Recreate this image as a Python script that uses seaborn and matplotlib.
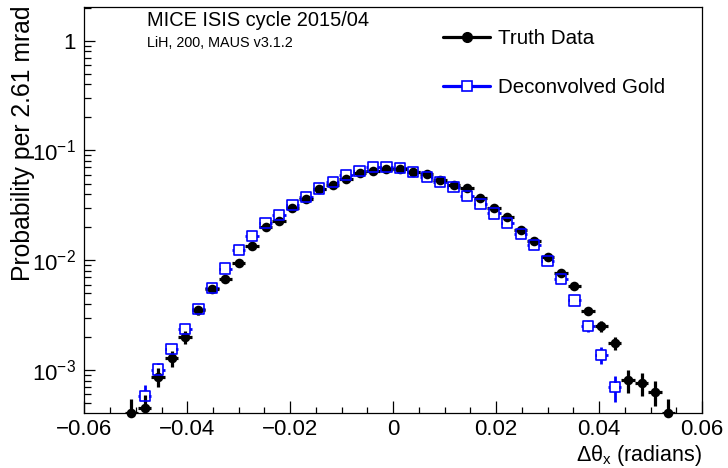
import numpy as np
import pandas as pd
import matplotlib
matplotlib.use("Agg")
import matplotlib.pyplot as plt
from matplotlib.lines import Line2D
from matplotlib.ticker import FixedLocator, FixedFormatter, LogLocator, MultipleLocator, NullFormatter
import seaborn as sns

# ---------------- data ----------------
X_MIN, X_MAX, N_BINS = -0.06, 0.06, 46   # 2.61 mrad bins

truth_first_bin = 3
truth_values = [4.1e-4, 4.5e-4, 8.7e-4, 1.28e-3, 2.01e-3, 3.52e-3, 5.5e-3, 6.8e-3, 9.4e-3,
                0.0135, 0.0200, 0.0229, 0.0299, 0.0359, 0.0443, 0.0488, 0.0546, 0.0623,
                0.0654, 0.0675, 0.0675, 0.0641, 0.0615, 0.0538, 0.0484, 0.0455, 0.0371,
                0.0301, 0.0246, 0.0188, 0.0149, 0.0107, 0.0077, 0.0058, 0.00347, 0.00252,
                0.00175, 8.1e-4, 7.6e-4, 6.3e-4, 4.1e-4]
truth_errors = [1.3e-4, 1.4e-4, 1.7e-4, 2.1e-4, 2.8e-4, 3.3e-4, 4.0e-4, 4.5e-4, 5.3e-4,
                6.4e-4, 7.8e-4, 8.3e-4, 9.5e-4, 1.0e-3, 1.15e-3, 1.2e-3, 1.3e-3, 1.35e-3,
                1.4e-3, 1.4e-3, 1.4e-3, 1.4e-3, 1.35e-3, 1.3e-3, 1.2e-3, 1.15e-3, 1.05e-3,
                9.5e-4, 8.6e-4, 7.5e-4, 6.7e-4, 5.7e-4, 4.8e-4, 4.2e-4, 3.2e-4, 2.8e-4,
                2.4e-4, 1.9e-4, 1.8e-4, 1.6e-4, 1.3e-4]

gold_first_bin = 4
gold_values = [5.8e-4, 1.01e-3, 1.55e-3, 2.35e-3, 3.62e-3, 5.6e-3, 8.4e-3, 0.0124, 0.0167,
               0.0217, 0.0258, 0.0319, 0.0374, 0.0450, 0.0519, 0.0597, 0.0654, 0.0712,
               0.0712, 0.0690, 0.0640, 0.0577, 0.0519, 0.0461, 0.0385, 0.0325, 0.0267,
               0.0220, 0.0173, 0.0137, 0.0098, 0.0067, 0.0043, 0.0025, 0.00137, 6.95e-4]
gold_errors = [1.5e-4, 1.6e-4, 1.8e-4, 2.2e-4, 2.8e-4, 3.5e-4, 4.3e-4, 5.2e-4, 6.0e-4,
               6.8e-4, 7.4e-4, 8.2e-4, 8.9e-4, 9.8e-4, 1.05e-3, 1.13e-3, 1.18e-3, 1.23e-3,
               1.23e-3, 1.2e-3, 1.17e-3, 1.1e-3, 1.05e-3, 9.9e-4, 9.1e-4, 8.4e-4, 7.6e-4,
               6.9e-4, 6.1e-4, 5.5e-4, 4.7e-4, 3.9e-4, 3.3e-4, 2.8e-4, 2.4e-4, 1.8e-4]

x_ticks = [-0.06, -0.04, -0.02, 0.0, 0.02, 0.04, 0.06]
x_tick_labels = ["\u22120.06", "\u22120.04", "\u22120.02", "0", "0.02", "0.04", "0.06"]
y_ticks = [1e-3, 1e-2, 1e-1, 1.0]
y_tick_labels = [r"$10^{-3}$", r"$10^{-2}$", r"$10^{-1}$", "1"]

legend_labels = ["Truth Data", "Deconvolved Gold"]
title_text = "MICE ISIS cycle 2015/04"
subtitle_text = "LiH, 200, MAUS v3.1.2"
x_label = "\u0394\u03b8$_{\\mathrm{x}}$ (radians)"
y_label = "Probability per 2.61 mrad"

# ---------------- tables ----------------
edges = np.linspace(X_MIN, X_MAX, N_BINS + 1)
centers = 0.5 * (edges[:-1] + edges[1:])
half_width = 0.5 * (edges[1] - edges[0])

truth = pd.DataFrame({
    "x": centers[truth_first_bin:truth_first_bin + len(truth_values)],
    "y": truth_values, "err": truth_errors})
gold = pd.DataFrame({
    "x": centers[gold_first_bin:gold_first_bin + len(gold_values)],
    "y": gold_values, "err": gold_errors})

# ---------------- style ----------------
sns.set_theme(style="white")
FONT = ["Liberation Sans", "DejaVu Sans"]
plt.rcParams["font.family"] = FONT
plt.rcParams["mathtext.fontset"] = "custom"
plt.rcParams["mathtext.rm"] = "Liberation Sans"
plt.rcParams["mathtext.it"] = "Liberation Sans:italic"
plt.rcParams["mathtext.bf"] = "Liberation Sans:bold"
plt.rcParams["axes.unicode_minus"] = True

fig = plt.figure(figsize=(7.28, 4.68), dpi=100)
ax = fig.add_axes([84.3 / 728, 1 - 413 / 468, (702 - 84.3) / 728, (413 - 7.3) / 468])
ax.set_yscale("log")

# gold error bars (underneath)
ax.errorbar(gold["x"], gold["y"], xerr=half_width, yerr=gold["err"], fmt="none",
            ecolor="#0000ff", elinewidth=2.0, capsize=0, zorder=2)
# white fill of the squares hides the error line inside the marker
sns.scatterplot(data=gold, x="x", y="y", ax=ax, marker="s", s=46, color="white",
                edgecolor="none", linewidth=0, zorder=3, legend=False)
# truth
ax.errorbar(truth["x"], truth["y"], xerr=half_width, yerr=truth["err"], fmt="none",
            ecolor="black", elinewidth=2.3, capsize=0, zorder=4)
sns.scatterplot(data=truth, x="x", y="y", ax=ax, marker="o", s=48, color="black",
                edgecolor="black", linewidth=0, zorder=5, legend=False, clip_on=False)
# gold square outlines on top
sns.scatterplot(data=gold, x="x", y="y", ax=ax, marker="s", s=54, color="#0000ff",
                facecolors="none", edgecolor="#0000ff", linewidth=1.2, zorder=6, legend=False)

# ---------------- axes ----------------
ax.set_xlim(X_MIN, X_MAX)
ax.set_ylim(4.06e-4, 2.015)

ax.xaxis.set_major_locator(FixedLocator(x_ticks))
ax.xaxis.set_major_formatter(FixedFormatter(x_tick_labels))
ax.xaxis.set_minor_locator(MultipleLocator(0.005))
ax.yaxis.set_major_locator(FixedLocator(y_ticks))
ax.yaxis.set_major_formatter(FixedFormatter(y_tick_labels))
ax.yaxis.set_minor_locator(LogLocator(base=10, subs=np.arange(2, 10), numticks=20))
ax.yaxis.set_minor_formatter(NullFormatter())

ax.tick_params(axis="both", which="both", direction="in", bottom=True, left=True,
               top=False, right=False, color="black", width=0.9, labelcolor="black")
ax.tick_params(axis="x", which="major", length=8.6, pad=4, labelsize=16)
ax.tick_params(axis="x", which="minor", length=4.0)
ax.tick_params(axis="y", which="major", length=8.0, pad=6, labelsize=16)
ax.tick_params(axis="y", which="minor", length=5.0)

for sp in ax.spines.values():
    sp.set_visible(True)
    sp.set_color("black")
    sp.set_linewidth(0.9)

ax.set_xlabel(x_label, fontsize=15.5, loc="right", color="black")
ax.xaxis.set_label_coords(1.0, -0.073)
ax.set_ylabel(y_label, fontsize=17.8, loc="top", color="black")
ax.yaxis.set_label_coords(-0.080, 1.005)
ax.grid(False)

# ---------------- annotations ----------------
fig.text(147 / 728, 1 - 20 / 468, title_text, fontsize=14.4, va="center", ha="left", color="black")
fig.text(147 / 728, 1 - 43 / 468, subtitle_text, fontsize=10.4, va="center", ha="left", color="black")

handles = [
    Line2D([], [], color="black", lw=2.3, marker="o", markersize=7, markerfacecolor="black",
           markeredgecolor="black"),
    Line2D([], [], color="#0000ff", lw=2.3, marker="s", markersize=7, markerfacecolor="white",
           markeredgecolor="#0000ff", markeredgewidth=1.2),
]
leg = ax.legend(handles, legend_labels, loc="upper left",
                bbox_to_anchor=(443 / 728, 1 - 29 / 468), bbox_transform=fig.transFigure,
                frameon=False, fontsize=14.8, handlelength=2.3, handletextpad=0.4,
                labelspacing=1.45, borderpad=0, borderaxespad=0)
for t in leg.get_texts():
    t.set_color("black")

fig.savefig("out.png", dpi=100)
